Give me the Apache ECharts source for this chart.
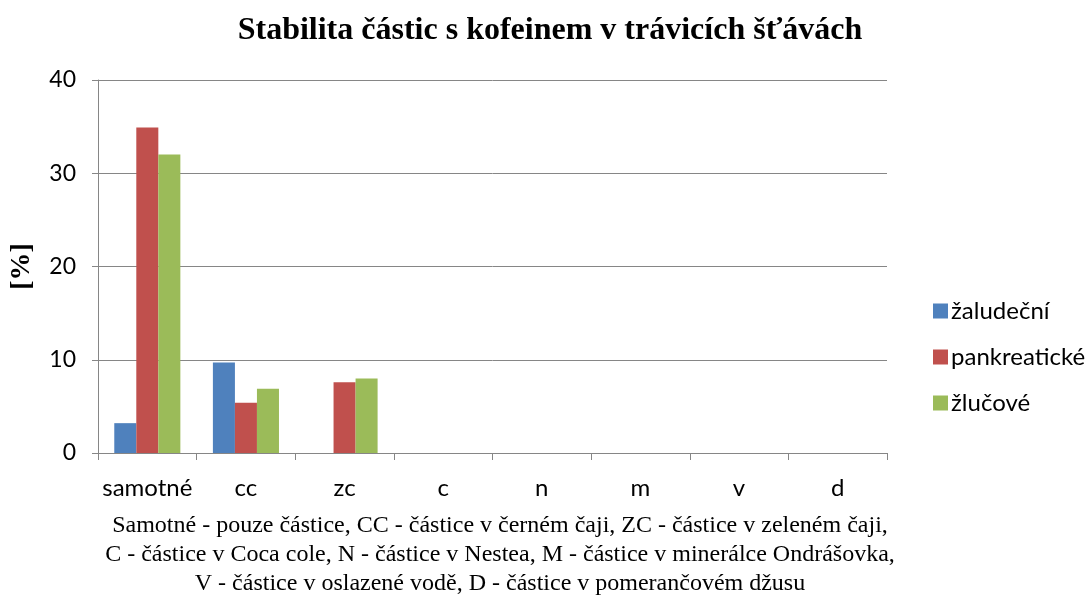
<!DOCTYPE html>
<html>
<head>
<meta charset="utf-8">
<script src="https://cdn.jsdelivr.net/npm/echarts@6/dist/echarts.min.js"></script>
<style>
  html, body { margin: 0; padding: 0; background: #fff; }
  #chart { width: 1091px; height: 599px; }
</style>
</head>
<body>
<div id="chart"></div>
<script>
// Categories (drinks) and stability values [%] per digestive juice
const categories = ['samotné', 'cc', 'zc', 'c', 'n', 'm', 'v', 'd'];
const zaludecni = [3.2, 9.7, 0, 0, 0, 0, 0, 0];
const pankreaticke = [34.9, 5.4, 7.6, 0, 0, 0, 0, 0];
const zlucove = [32.0, 6.9, 8.0, 0, 0, 0, 0, 0];
const yTicks = [0, 10, 20, 30, 40];

const noteLines = [
  'Samotné - pouze částice, CC - částice v černém čaji, ZC - částice v zeleném čaji,',
  'C - částice v Coca cole, N - částice v Nestea, M - částice v minerálce Ondrášovka,',
  'V - částice v oslazené vodě, D - částice v pomerančovém džusu'
];

const chart = echarts.init(document.getElementById('chart'));
const sans = 'Lato, "Noto Sans", sans-serif';
const serif = '"Liberation Serif", "DejaVu Serif", serif';

chart.setOption({
  animation: false,
  backgroundColor: '#ffffff',
  title: {
    text: 'Stabilita částic s kofeinem v trávicích šťávách',
    left: 545, top: 10, textAlign: 'center',
    textStyle: { fontFamily: serif, fontWeight: 'bold', fontSize: 32, color: '#000' }
  },
  legend: {
    orient: 'vertical',
    left: 928, top: 294,
    itemWidth: 15, itemHeight: 15, itemGap: 22,
    icon: 'rect',
    textStyle: { fontFamily: sans, fontSize: 24, color: '#000', padding: [0, 0, 0, -2] },
    data: ['žaludeční', 'pankreatické', 'žlučové']
  },
  grid: { left: 96, right: 204, top: 80, bottom: 146 },
  xAxis: {
    type: 'category',
    data: categories,
    axisLine: { lineStyle: { color: '#868686', width: 1 } },
    axisTick: { show: true, interval: 0, length: 7, lineStyle: { color: '#868686' } },
    axisLabel: { interval: 0, fontFamily: sans, fontSize: 24, color: '#000', margin: 23 }
  },
  yAxis: {
    type: 'value',
    min: yTicks[0], max: yTicks[yTicks.length - 1], interval: 10,
    name: '[%]',
    nameLocation: 'middle',
    nameGap: 62,
    nameTextStyle: { fontFamily: serif, fontWeight: 'bold', fontSize: 28, color: '#000' },
    axisLine: { show: true, lineStyle: { color: '#868686', width: 1 } },
    axisTick: { show: true, length: 6, lineStyle: { color: '#868686' } },
    axisLabel: { fontFamily: sans, fontSize: 23, color: '#000', margin: 22 },
    splitLine: { lineStyle: { color: '#868686', width: 1 } }
  },
  series: [
    { name: 'žaludeční', type: 'bar', data: zaludecni, barGap: '0%', barCategoryGap: '33%',
      itemStyle: { color: '#4F81BD' } },
    { name: 'pankreatické', type: 'bar', data: pankreaticke, barGap: '0%', barCategoryGap: '33%',
      itemStyle: { color: '#C0504D' } },
    { name: 'žlučové', type: 'bar', data: zlucove, barGap: '0%', barCategoryGap: '33%',
      itemStyle: { color: '#9BBB59' } }
  ],
  // three-line legend of the abbreviations below the category axis
  graphic: noteLines.map((t, i) => ({
    type: 'text',
    x: 500,
    y: 514 + i * 29,
    style: { text: t, fontFamily: serif, fontSize: 24, fill: '#000', textAlign: 'center' }
  }))
});
</script>
</body>
</html>
